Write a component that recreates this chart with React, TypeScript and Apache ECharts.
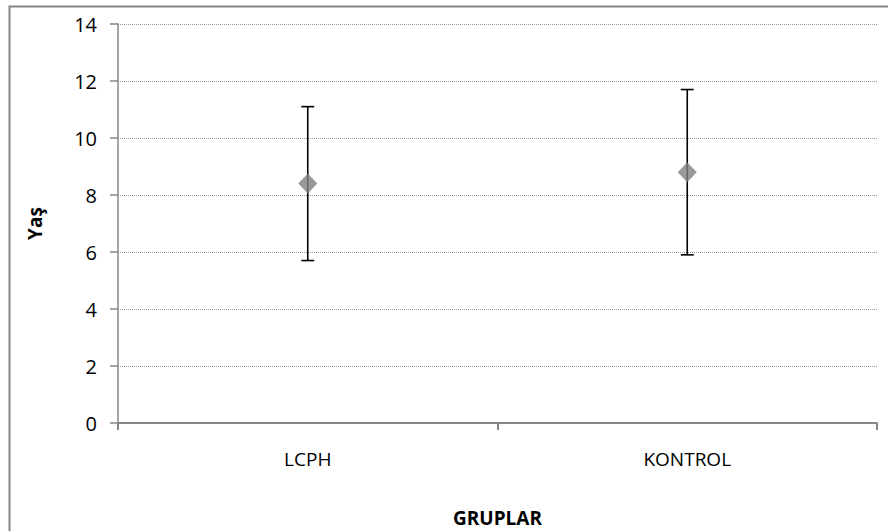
import React, { useEffect, useRef } from "react";
import * as echarts from "echarts";

const categories = ["LCPH", "KONTROL"];
const means = [8.4, 8.8];
const lowerValues = [5.7, 5.9];
const upperValues = [11.1, 11.7];
const yTicks = { min: 0, max: 14, interval: 2 };

const FONT = "'Open Sans', sans-serif";

export default function App() {
  const ref = useRef<HTMLDivElement>(null);
  useEffect(() => {
    if (!ref.current) return;
    const chart = echarts.init(ref.current, null, { renderer: "svg" });
    const errorData = categories.map((c, i) => [i, lowerValues[i], upperValues[i]]);
    chart.setOption({
      animation: false,
      backgroundColor: "#ffffff",
      textStyle: { fontFamily: FONT },
      graphic: [
        {
          type: "rect",
          shape: { x: 9.5, y: 6.5, width: 900, height: 600 },
          style: { fill: "none", stroke: "#868686", lineWidth: 2 },
          silent: true,
        },
      ],
      grid: {
        left: 118,
        top: 24,
        right: 11,
        bottom: 108,
        containLabel: false,
        outerBoundsMode: "none",
      },
      xAxis: {
        type: "category",
        data: categories,
        boundaryGap: true,
        axisLine: { lineStyle: { color: "#868686", width: 2 } },
        axisTick: { show: true, length: 7, lineStyle: { color: "#868686", width: 2 } },
        axisLabel: { color: "#000", fontSize: 19, margin: 26, fontFamily: FONT },
        name: "GRUPLAR",
        nameLocation: "middle",
        nameGap: 85,
        nameTextStyle: { color: "#000", fontSize: 19, fontWeight: "bold", fontFamily: FONT },
      },
      yAxis: {
        type: "value",
        min: yTicks.min,
        max: yTicks.max,
        interval: yTicks.interval,
        axisLine: { show: true, lineStyle: { color: "#868686", width: 1.5 } },
        axisTick: { show: true, length: 8, lineStyle: { color: "#868686", width: 1.5 } },
        axisLabel: { color: "#000", fontSize: 20, margin: 21, fontFamily: FONT },
        splitLine: { show: true, lineStyle: { color: "#9a9a9a", width: 1, type: [1, 1] } },
        name: "Yaş",
        nameLocation: "middle",
        nameGap: 74,
        nameRotate: 90,
        nameTextStyle: { color: "#000", fontSize: 19, fontWeight: "bold", fontFamily: FONT },
      },
      series: [
        {
          type: "custom",
          z: 1,
          data: errorData,
          renderItem: (params: any, api: any) => {
            const x = api.value(0);
            const lo = api.coord([x, api.value(1)]);
            const hi = api.coord([x, api.value(2)]);
            const hw = 6.5;
            const style = { stroke: "#000", lineWidth: 1.6, fill: "none" };
            return {
              type: "group",
              children: [
                { type: "line", shape: { x1: lo[0], y1: lo[1], x2: hi[0], y2: hi[1] }, style },
                { type: "line", shape: { x1: lo[0] - hw, y1: lo[1], x2: lo[0] + hw, y2: lo[1] }, style },
                { type: "line", shape: { x1: hi[0] - hw, y1: hi[1], x2: hi[0] + hw, y2: hi[1] }, style },
              ],
            };
          },
        },
        {
          type: "scatter",
          z: 2,
          data: means,
          symbol: "diamond",
          symbolSize: [19, 20],
          itemStyle: { color: "#7f7f7f" },
        },
      ],
    });
    return () => chart.dispose();
  }, []);
  return (
    <div
      ref={ref}
      style={{ position: "fixed", left: 0, top: 0, width: 888, height: 531 }}
    />
  );
}
